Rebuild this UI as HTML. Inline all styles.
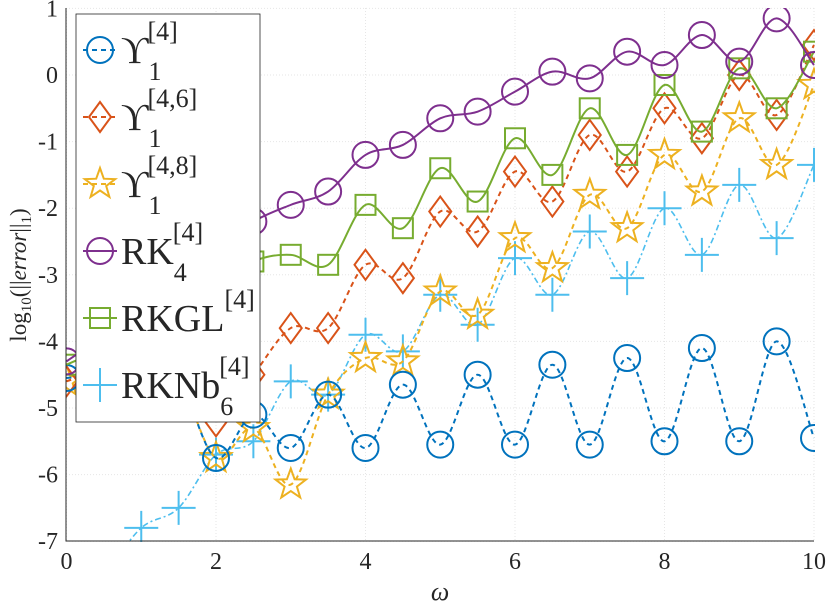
<!DOCTYPE html>
<html><head><meta charset="utf-8"><style>
body{margin:0;background:#fff;width:830px;height:608px;overflow:hidden}
text{font-family:"Liberation Serif","DejaVu Serif",serif;fill:#262626}
</style></head><body>
<svg width="830" height="608" xmlns="http://www.w3.org/2000/svg">
<defs><clipPath id="pc"><rect x="66" y="8" width="749" height="534"/></clipPath></defs>
<g id="grid"></g>
<g id="series" clip-path="url(#pc)"></g>
<g id="axes"></g>
<g id="legend"></g>
</svg>
<script>
const omega=[0,0.5,1,1.5,2,2.5,3,3.5,4,4.5,5,5.5,6,6.5,7,7.5,8,8.5,9,9.5,10];
const ups4=[-4.55,-4.5,-4.5,-4.6,-5.75,-5.1,-5.6,-4.8,-5.6,-4.65,-5.55,-4.5,-5.55,-4.35,-5.55,-4.25,-5.5,-4.1,-5.5,-4.0,-5.45];
const ups46=[-4.6,-4.4,-4.3,-4.5,-5.2,-4.5,-3.8,-3.8,-2.85,-3.05,-2.05,-2.35,-1.45,-1.9,-0.9,-1.45,-0.5,-0.95,0.0,-0.6,0.45];
const ups48=[-4.6,-4.4,-4.4,-4.6,-5.75,-5.3,-6.15,-4.8,-4.25,-4.3,-3.25,-3.6,-2.45,-2.9,-1.8,-2.3,-1.2,-1.75,-0.65,-1.35,-0.15];
const rk4=[-4.3,-3.9,-3.4,-3.0,-2.6,-2.2,-1.95,-1.75,-1.2,-1.05,-0.65,-0.55,-0.25,0.05,-0.05,0.35,0.15,0.6,0.2,0.85,0.15];
const rkgl=[-4.35,-4.1,-3.8,-3.5,-3.2,-2.8,-2.7,-2.85,-1.95,-2.3,-1.4,-1.9,-0.95,-1.5,-0.5,-1.2,-0.15,-0.85,0.1,-0.5,0.35];
const rknb=[-8.0,-7.5,-6.8,-6.5,-5.7,-5.5,-4.6,-4.8,-3.9,-4.15,-3.3,-3.75,-2.75,-3.3,-2.35,-3.05,-2.0,-2.7,-1.65,-2.45,-1.35];
const xTicks=[0,2,4,6,8,10];
const yTicks=[1,0,-1,-2,-3,-4,-5,-6,-7];
const NS='http://www.w3.org/2000/svg';
const X=v=>66.5+v*74.75;
const Y=v=>75-v*66.6;
function mk(tag,attrs,parent){const e=document.createElementNS(NS,tag);for(const k in attrs)e.setAttribute(k,attrs[k]);parent.appendChild(e);return e;}
const grid=document.getElementById('grid'),axes=document.getElementById('axes'),ser=document.getElementById('series'),leg=document.getElementById('legend');
xTicks.forEach(t=>{const l=mk('line',{x1:X(t),x2:X(t),y1:8,y2:541,stroke:'#e6e6e6','stroke-dasharray':'1 2'},grid);

const tx=mk('text',{x:X(t),y:569,'font-size':24,'text-anchor':'middle'},axes);tx.textContent=t;
});
yTicks.forEach(t=>{const l=mk('line',{x1:66,x2:814,y1:Y(t),y2:Y(t),stroke:'#e6e6e6','stroke-dasharray':'1 2'},grid);

const tx=mk('text',{x:58,y:Y(t)+8,'font-size':24,'text-anchor':'end'},axes);tx.textContent=t;
});
const ax=mk('path',{d:`M66,8 V541 H814`,fill:'none',stroke:'#262626','stroke-width':1},axes);

const xl=mk('text',{x:440,y:600,'font-size':26,'font-style':'italic','text-anchor':'middle'},axes);xl.textContent='ω';

const yl=mk('text',{x:0,y:0,'font-size':23,'text-anchor':'middle',transform:'translate(26,275) rotate(-90)'},axes);
yl.innerHTML='log<tspan font-size="15" dy="5">10</tspan><tspan dy="-5">(||</tspan><tspan font-style="italic">error</tspan><tspan>||</tspan><tspan font-size="15" dy="5">1</tspan><tspan dy="-5">)</tspan>';

function curve(vals){const p=vals.map((v,i)=>[X(omega[i]),Y(v)]);let d=`M${p[0][0]},${p[0][1]}`;
for(let i=0;i<p.length-1;i++){const p0=p[i-1]||p[i],p1=p[i],p2=p[i+1],p3=p[i+2]||p2;
d+=` C${p1[0]+(p2[0]-p0[0])/6},${p1[1]+(p2[1]-p0[1])/6} ${p2[0]-(p3[0]-p1[0])/6},${p2[1]-(p3[1]-p1[1])/6} ${p2[0]},${p2[1]}`;}return d;}
function marker(type,cx,cy,col,parent){let e;
if(type==='circle')e=mk('circle',{cx,cy,r:13,fill:'none',stroke:col,'stroke-width':2},parent);
else if(type==='diamond')e=mk('path',{d:`M${cx},${cy-15}L${cx+11},${cy}L${cx},${cy+15}L${cx-11},${cy}Z`,fill:'none',stroke:col,'stroke-width':2},parent);
else if(type==='square')e=mk('rect',{x:cx-10,y:cy-10,width:20,height:20,fill:'none',stroke:col,'stroke-width':2},parent);
else if(type==='star'){let pts=[];for(let k=0;k<10;k++){const r=k%2?6.5:16,a=-Math.PI/2+k*Math.PI/5;pts.push((cx+r*Math.cos(a)).toFixed(1)+','+(cy+r*Math.sin(a)).toFixed(1));}
e=mk('polygon',{points:pts.join(' '),fill:'none',stroke:col,'stroke-width':2},parent);}
else e=mk('path',{d:`M${cx-17},${cy}H${cx+17}M${cx},${cy-17}V${cy+17}`,stroke:col,'stroke-width':2},parent);
return e;}
const S=[
{n:'rknb',v:rknb,c:'#4DBEEE',m:'plus',dash:'6 3 2 3',w:1.6},
{n:'ups48',v:ups48,c:'#EDB120',m:'star',dash:'5 4',w:2},
{n:'ups46',v:ups46,c:'#D95319',m:'diamond',dash:'5 4',w:2},
{n:'ups4',v:ups4,c:'#0072BD',m:'circle',dash:'5 4',w:2},
{n:'rkgl',v:rkgl,c:'#77AC30',m:'square',dash:'',w:2},
{n:'rk4',v:rk4,c:'#7E2F8E',m:'circle',dash:'',w:2}];
S.forEach(s=>{const g=mk('g',{},ser);
const ln=mk('path',{d:curve(s.v),fill:'none',stroke:s.c,'stroke-width':s.w,'stroke-dasharray':s.dash},g);

s.v.forEach((v,i)=>{const m=marker(s.m,X(omega[i]),Y(v),s.c,g);
});});
const box=mk('rect',{x:76,y:14,width:184,height:408,fill:'#fff',stroke:'#262626','stroke-width':0.8},leg);

const L=[['ups4','circle','#0072BD','5 4','ϒ','[4]','1'],['ups46','diamond','#D95319','5 4','ϒ','[4,6]','1'],['ups48','star','#EDB120','5 4','ϒ','[4,8]','1'],
['rk4','circle','#7E2F8E','','RK','[4]','4'],['rkgl','square','#77AC30','','RKGL','[4]',''],['rknb','plus','#4DBEEE','6 3 2 3','RKNb','[4]','6']];
L.forEach((e,i)=>{const cy=50+i*67;const g=mk('g',{},leg);
mk('line',{x1:83,x2:117,y1:cy,y2:cy,stroke:e[2],'stroke-width':2,'stroke-dasharray':e[3]},g);
marker(e[1],100,cy,e[2],g);
const t=mk('text',{x:121,y:cy+13,'font-size':38},g);
t.innerHTML=e[4]+(e[6]?`<tspan font-size="26" dy="17">${e[6]}</tspan><tspan font-size="26" dx="-14" dy="-40">${e[5]}</tspan>`:`<tspan font-size="26" dy="-23">${e[5]}</tspan>`);});
</script>
</body></html>
